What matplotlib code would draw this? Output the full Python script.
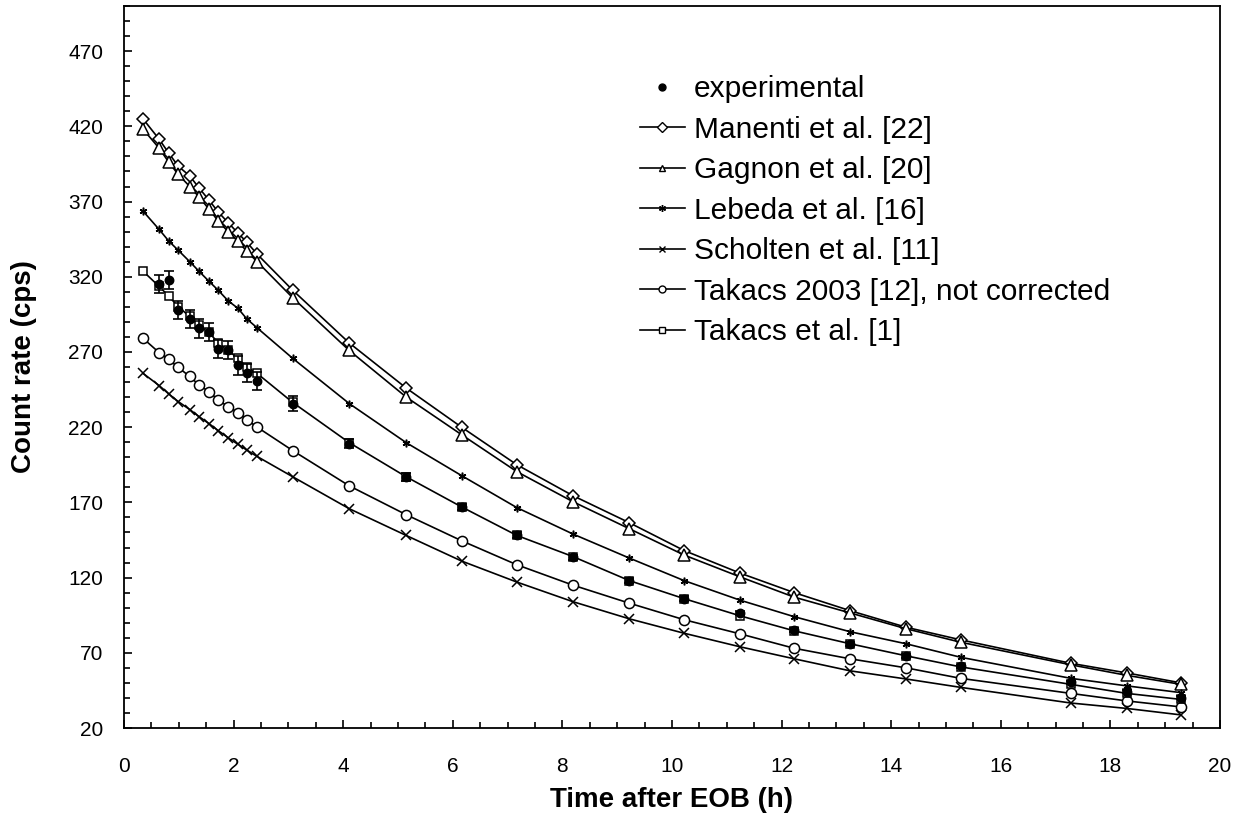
import numpy as np
import matplotlib.pyplot as plt
from matplotlib.lines import Line2D
from matplotlib.ticker import MultipleLocator

plt.rcParams['font.family'] = ['Liberation Sans', 'DejaVu Sans']

# time points of the calculated curves (h after EOB)
t_model = [0.35, 0.64, 0.82, 0.99, 1.20, 1.37, 1.55, 1.72, 1.90, 2.08, 2.24, 2.43,
           3.08, 4.11, 5.15, 6.16, 7.17, 8.19, 9.22, 10.22, 11.24, 12.23, 13.25,
           14.27, 15.27, 17.28, 18.30, 19.29]

manenti = [424.8, 411.5, 402, 393.5, 387, 379, 371, 363, 356, 349, 343, 335,
           311, 276, 246, 220, 195, 174.5, 156.5, 138, 123, 110, 98, 87, 78.6, 63, 56.6, 50]
gagnon = [418, 405.5, 396, 388, 380, 373, 365, 357, 350, 343.5, 337, 330,
          306, 271, 240, 215, 190.4, 170.5, 152.5, 135, 120.5, 107, 96.5, 86, 77, 62, 55, 49]
lebeda = [363.5, 351.5, 343.6, 337.6, 330, 323.6, 317, 311, 304, 299, 292, 286,
          265.7, 235.7, 209.7, 187.8, 166.5, 149, 133, 118, 105, 94, 84, 76, 67, 53, 48, 43.5]
scholten = [255.7, 247.7, 242, 237, 231.7, 227, 222.4, 217.7, 213, 208.6, 204.8, 200.5,
            187, 165.8, 148, 131, 117, 104, 92.6, 83, 74, 66, 58, 52.6, 47, 36.6, 33, 28.7]
takacs2003 = [279, 269.6, 265, 259.7, 253.7, 248, 243.7, 238, 233.7, 229.7, 225, 220,
              204.4, 181, 161.8, 144.5, 128.5, 115, 103, 92, 82.6, 73, 66, 60, 53, 43, 38, 34]
takacs1 = [323.6, 313.6, 307, 300, 293.6, 287.6, 283, 276, 271, 265.7, 260, 255.7,
           236.4, 209.7, 187, 167, 148, 134, 118, 106, 94.6, 84.6, 76, 68, 60.6, 49, 43, 39]

# experimental data
t_exp = [0.64, 0.82, 0.99, 1.20, 1.37, 1.55, 1.72, 1.90, 2.08, 2.24, 2.43,
         3.08, 4.11, 5.15, 6.16, 7.17, 8.19, 9.22, 10.22, 11.24, 12.23, 13.25,
         14.27, 15.27, 17.28, 18.30, 19.29]
exp_val = [315, 317.6, 298, 291.6, 285.6, 283, 271.7, 271, 261, 255.7, 250.4,
           235.7, 209, 187, 167, 148, 133.5, 118, 106, 96.6, 85, 76, 68, 61, 50.5, 44, 40]
exp_err = [6, 6, 6, 6, 6, 6, 6, 6, 6, 6, 6,
           5, 3, 2.5, 2, 2, 1.5, 1.5, 1.5, 1.5, 1.5, 1.5, 1.2, 1.2, 1, 1, 1]

series = [
    ("Manenti et al. [22]", manenti, "D", 6.5),
    ("Gagnon et al. [20]", gagnon, "^", 8),
    ("Lebeda et al. [16]", lebeda, (6, 2, 0), 5.5),
    ("Scholten et al. [11]", scholten, "x", 7),
    ("Takacs 2003 [12], not corrected", takacs2003, "o", 7.3),
    ("Takacs et al. [1]", takacs1, "s", 5.6),
]

fig = plt.figure(figsize=(12.42, 8.18), dpi=100)
ax = fig.add_axes([124 / 1242, 90 / 818, 1096 / 1242, 722 / 818])

for name, vals, mk, ms in series:
    ax.plot(t_model, vals, color="black", lw=1.2, marker=mk, ms=ms,
            mfc="white", mec="black", mew=1.1, zorder=2)

ax.errorbar(t_exp, exp_val, yerr=exp_err, fmt="o", color="black", ms=6.1,
            elinewidth=1.2, capsize=3.6, capthick=1.2, zorder=3)

ax.set_xlim(0, 20)
ax.set_ylim(20, 500)
ax.xaxis.set_major_locator(MultipleLocator(2))
ax.xaxis.set_minor_locator(MultipleLocator(0.5))
ax.set_yticks(np.arange(20, 471, 50))
ax.yaxis.set_minor_locator(MultipleLocator(10))
ax.tick_params(which="both", direction="in", labelsize=15, width=1.2)
ax.tick_params(which="major", length=6)
ax.tick_params(which="minor", length=4)
ax.tick_params(axis="x", pad=21)
ax.tick_params(axis="y", pad=15)
for sp in ax.spines.values():
    sp.set_linewidth(1.3)

ax.set_xlabel("Time after EOB (h)", fontsize=20, fontweight="bold", labelpad=8)
ax.set_ylabel("Count rate (cps)", fontsize=20, fontweight="bold")
ax.yaxis.set_label_coords(-0.0794, 0.5)

handles = [Line2D([], [], ls="none", marker="o", color="black", ms=5)]
labels = ["experimental"]
for name, vals, mk, ms in series:
    handles.append(Line2D([], [], color="black", lw=1.2, marker=mk, ms=5,
                          mfc="white", mec="black", mew=1.0))
    labels.append(name)

fig.legend(handles, labels, loc="upper left", bbox_to_anchor=(640 / 1242, 1 - 75 / 818),
           frameon=False, fontsize=21.5, handlelength=1.5, handletextpad=0.3,
           labelspacing=0.42, borderpad=0, borderaxespad=0)

fig.savefig("out.png", dpi=100)
